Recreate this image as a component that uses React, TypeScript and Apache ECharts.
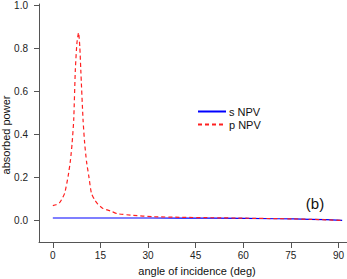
import React, { useEffect, useRef } from "react";
import * as echarts from "echarts";

const sAngles = [0, 10, 20, 30, 40, 45, 50, 60, 70, 75, 80, 85, 90];
const sValues = [0.011, 0.011, 0.011, 0.011, 0.0108, 0.0105, 0.0102, 0.009, 0.0075, 0.0065, 0.005, 0.003, 0.0];

const pAngles = [0, 1, 2, 2.7, 3.7, 4.75, 5.5, 6, 6.5, 7, 7.5, 8, 8.4, 8.7, 9.4, 9.9, 10.5, 11.2, 12, 13, 14, 15.6, 18.2, 20, 25, 31, 40, 50, 60, 70, 75, 80, 90];
const pValues = [0.068, 0.072, 0.08, 0.095, 0.126, 0.203, 0.28, 0.357, 0.465, 0.695, 0.82, 0.868, 0.8, 0.695, 0.465, 0.357, 0.27, 0.203, 0.126, 0.095, 0.075, 0.055, 0.042, 0.031, 0.023, 0.017, 0.014, 0.012, 0.01, 0.008, 0.0068, 0.005, 0.0];

const xTickMajor = 15;
const xTickMinor = 5;
const yTickMajor = 0.2;
const yTickMinor = 0.1;

const FONT = "Liberation Sans, Arial, sans-serif";
const AXIS_COLOR = "#555";
const LABEL_COLOR = "#222";

export default function App() {
  const ref = useRef<HTMLDivElement>(null);
  useEffect(() => {
    if (!ref.current) return;
    const chart = echarts.init(ref.current, null, { renderer: "svg" });
    const xMin = -4.3, xMax = 91.5, yMin = -0.1, yMax = 1.0;
    const W = 347, H = 279;
    const gL = 39, gR = 0, gT = 4, gB = 37;
    const pxX = (W - gL - gR) / (xMax - xMin);
    const pxY = (H - gT - gB) / (yMax - yMin);
    const x0 = gL + (0 - xMin) * pxX;
    const x90 = gL + (90 - xMin) * pxX;
    const y0 = gT + (yMax - 0) * pxY;
    const offX = H - gB - y0;
    const offY = x0 - gL;
    const tickGrid = { left: x0, right: W - x90, top: gT, bottom: H - y0 };
    const hidden = { axisLine: { show: false, onZero: false }, splitLine: { show: false } };
    chart.setOption({
      animation: false,
      grid: [
        { left: gL, right: gR, top: gT, bottom: gB, containLabel: false },
        { ...tickGrid, containLabel: false },
      ],
      xAxis: [
        {
          type: "value", gridIndex: 0, min: xMin, max: xMax,
          axisLine: { show: true, onZero: false, lineStyle: { color: AXIS_COLOR, width: 1 } },
          axisTick: { show: false }, axisLabel: { show: false }, splitLine: { show: false },
        },
        {
          type: "value", gridIndex: 1, min: 0, max: 90, interval: xTickMajor, offset: offX, ...hidden,
          axisTick: { show: true, length: 6, lineStyle: { color: AXIS_COLOR } },
          axisLabel: { margin: 8, fontSize: 10, fontFamily: FONT, color: LABEL_COLOR },
        },
        {
          type: "value", gridIndex: 1, min: 0, max: 90, interval: xTickMinor, offset: offX, ...hidden,
          axisTick: { show: true, length: 4, lineStyle: { color: AXIS_COLOR } },
          axisLabel: { show: false },
        },
      ],
      yAxis: [
        {
          type: "value", gridIndex: 0, min: yMin, max: yMax,
          axisLine: { show: true, onZero: false, lineStyle: { color: AXIS_COLOR, width: 1 } },
          axisTick: { show: false }, axisLabel: { show: false }, splitLine: { show: false },
        },
        {
          type: "value", gridIndex: 1, min: 0, max: 1, interval: yTickMajor, offset: offY, ...hidden,
          axisTick: { show: true, length: 5, lineStyle: { color: AXIS_COLOR } },
          axisLabel: { margin: 11, fontSize: 10, fontFamily: FONT, color: LABEL_COLOR, formatter: (v: number) => v.toFixed(1) },
        },
        {
          type: "value", gridIndex: 1, min: 0, max: 1, interval: yTickMinor, offset: offY, ...hidden,
          axisTick: { show: true, length: 4, lineStyle: { color: AXIS_COLOR } },
          axisLabel: { show: false },
        },
      ],
      legend: {
        orient: "vertical", left: 197, top: 106, padding: 0, itemGap: 2,
        itemWidth: 28, itemHeight: 12,
        itemStyle: { opacity: 0 },
        textStyle: { fontSize: 11, fontFamily: FONT, color: "#111", padding: [0, 0, 0, -2] },
        data: ["s NPV", "p NPV"],
      },
      series: [
        {
          name: "s NPV", type: "line", symbol: "none", xAxisIndex: 0, yAxisIndex: 0,
          data: sAngles.map((a, i) => [a, sValues[i]]),
          lineStyle: { color: "#0000ff", width: 1.2 }, itemStyle: { color: "#0000ff" },
        },
        {
          name: "p NPV", type: "line", symbol: "none", xAxisIndex: 0, yAxisIndex: 0, smooth: 0.2,
          data: pAngles.map((a, i) => [a, pValues[i]]),
          lineStyle: { color: "#ff2020", width: 1.2, type: [4, 3] }, itemStyle: { color: "#ff2020" },
        },
      ],
      graphic: [
        {
          type: "text", x: 6, y: 135, rotation: Math.PI / 2,
          style: { text: "absorbed power", fontSize: 11, fontFamily: FONT, fill: "#111", align: "center", verticalAlign: "middle" },
        },
        {
          type: "text", x: 197, y: 271,
          style: { text: "angle of incidence (deg)", fontSize: 11, fontFamily: FONT, fill: "#111", align: "center", verticalAlign: "middle" },
        },
        {
          type: "text", x: 315, y: 203,
          style: { text: "(b)", fontSize: 15, fontFamily: FONT, fill: "#111", align: "center", verticalAlign: "middle" },
        },
      ],
    });
    return () => chart.dispose();
  }, []);
  return <div ref={ref} style={{ position: "absolute", left: 0, top: 0, width: 347, height: 279 }} />;
}
